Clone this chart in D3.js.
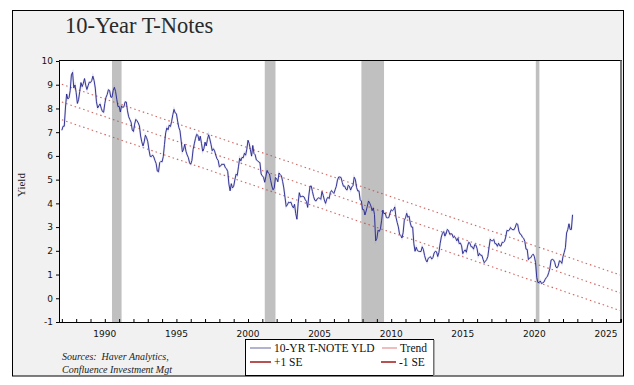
<!DOCTYPE html>
<html>
<head>
<meta charset="utf-8">
<script src="https://cdn.jsdelivr.net/npm/d3@7"></script>
<style>
  body { margin: 0; background: #fff; }
  svg { display: block; }
</style>
</head>
<body>
<svg id="chart" width="634" height="385"></svg>
<script>
// monthly 10-yr yield, Jan 1987 .. Sep 2022
const startYear = 1987
const yields = [
  7.08, 7.25, 7.25, 8.02, 8.61, 8.40, 8.45, 8.76, 9.42, 9.52, 8.86, 8.99,
  8.67, 8.21, 8.37, 8.72, 9.09, 8.92, 9.06, 9.26, 8.98, 8.80, 8.96, 9.11,
  9.09, 9.17, 9.36, 9.18, 8.86, 8.28, 8.02, 8.11, 8.19, 8.01, 7.87, 7.84,
  8.21, 8.47, 8.59, 8.79, 8.76, 8.48, 8.47, 8.75, 8.89, 8.72, 8.39, 8.08,
  8.09, 7.85, 8.11, 8.04, 8.07, 8.28, 8.27, 7.90, 7.65, 7.53, 7.42, 7.09,
  7.03, 7.34, 7.54, 7.48, 7.39, 7.26, 6.84, 6.59, 6.42, 6.59, 6.87, 6.77,
  6.60, 6.26, 5.98, 5.97, 6.04, 5.96, 5.81, 5.68, 5.36, 5.33, 5.72, 5.77,
  5.75, 5.97, 6.48, 6.97, 7.18, 7.10, 7.30, 7.24, 7.46, 7.74, 7.96, 7.81,
  7.78, 7.47, 7.20, 7.06, 6.63, 6.17, 6.28, 6.49, 6.20, 6.04, 5.93, 5.71,
  5.65, 5.81, 6.27, 6.51, 6.74, 6.91, 6.87, 6.64, 6.83, 6.53, 6.20, 6.30,
  6.58, 6.42, 6.69, 6.89, 6.71, 6.49, 6.22, 6.30, 6.21, 6.03, 5.88, 5.81,
  5.54, 5.57, 5.65, 5.64, 5.65, 5.50, 5.46, 5.34, 4.81, 4.53, 4.83, 4.65,
  4.72, 5.00, 5.23, 5.18, 5.54, 5.90, 5.79, 5.94, 5.92, 6.11, 6.03, 6.28,
  6.66, 6.52, 6.26, 5.99, 6.44, 6.10, 6.05, 5.83, 5.80, 5.74, 5.72, 5.24,
  5.16, 5.10, 4.89, 5.14, 5.39, 5.28, 5.24, 4.97, 4.73, 4.57, 4.65, 5.09,
  5.04, 4.91, 5.28, 5.21, 5.16, 4.93, 4.65, 4.26, 3.87, 3.94, 4.05, 4.03,
  4.05, 3.90, 3.81, 3.96, 3.57, 3.33, 3.98, 4.45, 4.27, 4.29, 4.30, 4.27,
  4.15, 4.08, 3.83, 4.35, 4.72, 4.73, 4.50, 4.28, 4.13, 4.10, 4.19, 4.23,
  4.22, 4.17, 4.50, 4.34, 4.14, 4.00, 4.18, 4.26, 4.20, 4.46, 4.54, 4.47,
  4.42, 4.57, 4.72, 4.99, 5.11, 5.11, 5.09, 4.88, 4.72, 4.73, 4.60, 4.56,
  4.76, 4.72, 4.56, 4.69, 4.75, 5.10, 5.00, 4.67, 4.52, 4.53, 4.15, 4.10,
  3.74, 3.74, 3.51, 3.68, 3.88, 4.10, 4.01, 3.89, 3.69, 3.81, 3.53, 2.42,
  2.52, 2.87, 2.82, 2.93, 3.29, 3.72, 3.56, 3.59, 3.40, 3.39, 3.40, 3.59,
  3.73, 3.69, 3.73, 3.85, 3.42, 3.20, 3.01, 2.70, 2.65, 2.54, 2.76, 3.29,
  3.39, 3.58, 3.41, 3.46, 3.17, 3.00, 3.00, 2.30, 1.98, 2.15, 2.01, 1.98,
  1.97, 1.97, 2.17, 2.05, 1.80, 1.62, 1.53, 1.68, 1.72, 1.75, 1.65, 1.72,
  1.91, 1.98, 1.96, 1.76, 1.93, 2.30, 2.58, 2.74, 2.81, 2.62, 2.72, 2.90,
  2.86, 2.71, 2.72, 2.71, 2.56, 2.60, 2.54, 2.42, 2.53, 2.30, 2.33, 2.21,
  1.88, 1.98, 2.04, 1.94, 2.20, 2.36, 2.32, 2.17, 2.17, 2.07, 2.26, 2.24,
  2.09, 1.78, 1.89, 1.81, 1.81, 1.64, 1.50, 1.56, 1.63, 1.76, 2.14, 2.49,
  2.43, 2.42, 2.48, 2.30, 2.30, 2.19, 2.32, 2.21, 2.20, 2.36, 2.35, 2.40,
  2.58, 2.86, 2.84, 2.87, 2.98, 2.91, 2.89, 2.89, 3.00, 3.15, 3.12, 2.83,
  2.71, 2.68, 2.57, 2.53, 2.40, 2.07, 2.06, 1.63, 1.70, 1.71, 1.81, 1.86,
  1.76, 1.50, 0.87, 0.66, 0.67, 0.73, 0.62, 0.65, 0.68, 0.79, 0.87, 0.93,
  1.08, 1.26, 1.61, 1.64, 1.62, 1.52, 1.32, 1.28, 1.37, 1.58, 1.56, 1.47,
  1.76, 1.93, 2.13, 2.75, 2.90, 3.14, 2.90, 2.90, 3.52
]

// trend line (start / end) and standard error
const trendYears = [1987, 2026.05]
const trendValues = [8.27, 0.22]
const trendSE = 0.75

// recessions, as fractional years
const recessions = [[1990.5, 1991.17], [2001.17, 2001.92], [2007.92, 2009.5], [2020.1, 2020.35]]

const yTicks = [-1, 0, 1, 2, 3, 4, 5, 6, 7, 8, 9, 10]
const xLabels = [1990, 1995, 2000, 2005, 2010, 2015, 2020, 2025]

const svg = d3.select('#chart')

// frame
svg.append('rect')
  .attr('x', 12.5).attr('y', 10.5)
  .attr('width', 611).attr('height', 365.5)
  .attr('fill', '#f1f1f1')
  .attr('stroke', '#000').attr('stroke-width', 1)

const plot = {left: 59, right: 621, top: 60.5, bottom: 322}

const x = d3.scaleLinear().domain([1986.8, 2026.05]).range([plot.left, plot.right])
const y = d3.scaleLinear().domain([-1, 10]).range([plot.bottom, plot.top + 0.5])

svg.append('rect')
  .attr('x', plot.left).attr('y', plot.top)
  .attr('width', plot.right - plot.left).attr('height', plot.bottom - plot.top)
  .attr('fill', '#fff')

// recession bars
svg.selectAll('rect.rec')
  .data(recessions)
  .join('rect')
  .attr('class', 'rec')
  .attr('x', d => x(d[0]))
  .attr('width', d => x(d[1]) - x(d[0]))
  .attr('y', plot.top)
  .attr('height', plot.bottom - plot.top)
  .attr('fill', '#c0c0c0')

// trend and +/- 1 SE lines
const trendLine = d3.line().x(d => x(d[0])).y(d => y(d[1]))
;[trendSE, 0, -trendSE].forEach(function(off){
  svg.append('path')
    .datum(trendYears.map((yr, i) => [yr, trendValues[i] + off]))
    .attr('d', trendLine)
    .attr('fill', 'none')
    .attr('stroke', '#c4403a')
    .attr('stroke-width', 1.1)
    .attr('stroke-dasharray', '1.5,3')
    .attr('opacity', 0.8)
})

// yield line
const yieldLine = d3.line()
  .x((d, i) => x(startYear + i / 12))
  .y(d => y(d))

svg.append('path')
  .datum(yields)
  .attr('d', yieldLine)
  .attr('fill', 'none')
  .attr('stroke', '#9a9ad8')
  .attr('stroke-width', 2)
  .attr('opacity', 0.3)

svg.append('path')
  .datum(yields)
  .attr('d', yieldLine)
  .attr('fill', 'none')
  .attr('stroke', '#24248c')
  .attr('stroke-width', 0.9)

// plot borders
svg.append('line')
  .attr('x1', plot.left).attr('x2', plot.right + 1)
  .attr('y1', plot.top).attr('y2', plot.top)
  .attr('stroke', '#000')
svg.append('line')
  .attr('x1', plot.right).attr('x2', plot.right)
  .attr('y1', plot.top).attr('y2', plot.bottom)
  .attr('stroke', '#7a7a7a').attr('stroke-width', 2)

// y axis
const yAxis = svg.append('g')
  .attr('transform', `translate(${plot.left},0)`)
  .call(d3.axisLeft(y).tickValues(yTicks).tickSize(3).tickPadding(3).tickFormat(d => String(d)))
yAxis.select('.domain').attr('stroke', '#000')
yAxis.selectAll('text')
  .attr('font-family', 'DejaVu Sans, sans-serif')
  .attr('font-size', 9)
  .attr('fill', '#111')

// x axis: yearly ticks pointing in, labels every 5 years
const xAxis = svg.append('g')
  .attr('transform', `translate(0,${plot.bottom})`)
  .call(d3.axisBottom(x).tickValues(d3.range(1987, 2027)).tickSize(-3).tickFormat(''))
xAxis.select('.domain').attr('stroke', '#000')

svg.selectAll('text.xlab')
  .data(xLabels)
  .join('text')
  .attr('class', 'xlab')
  .attr('x', d => x(d))
  .attr('y', 337)
  .attr('text-anchor', 'middle')
  .attr('font-family', 'DejaVu Sans, sans-serif')
  .attr('font-size', 9)
  .attr('fill', '#111')
  .text(d => d)

// title and y label
svg.append('text')
  .attr('x', 65).attr('y', 33)
  .attr('font-family', 'Liberation Serif, serif')
  .attr('font-size', 22.5)
  .attr('fill', '#2a2a2a')
  .text('10-Year T-Notes')

svg.append('text')
  .attr('transform', 'translate(25,185) rotate(-90)')
  .attr('text-anchor', 'middle')
  .attr('font-family', 'Liberation Serif, serif')
  .attr('font-size', 11)
  .attr('fill', '#222')
  .text('Yield')

// sources
const src = svg.append('g')
  .attr('font-family', 'Liberation Serif, serif')
  .attr('font-style', 'italic')
  .attr('font-size', 10)
  .attr('fill', '#222')
src.append('text').attr('x', 62).attr('y', 360).attr('xml:space', 'preserve').text('Sources:  Haver Analytics,')
src.append('text').attr('x', 62).attr('y', 373).text('Confluence Investment Mgt')

// legend
const legend = svg.append('g')
legend.append('rect')
  .attr('x', 245.5).attr('y', 339.5)
  .attr('width', 188).attr('height', 36)
  .attr('fill', '#fff')
  .attr('stroke', '#000')
legend.append('line')
  .attr('x1', 434).attr('x2', 434).attr('y1', 340).attr('y2', 376)
  .attr('stroke', '#999').attr('stroke-width', 1.5)

const legendItems = [
  {label: '10-YR T-NOTE YLD', color: '#9a9ac0', x: 250, y: 352, len: 21},
  {label: 'Trend', color: '#e8a8a8', x: 382, y: 352, len: 15},
  {label: '+1 SE', color: '#a01818', x: 250, y: 366, len: 21},
  {label: '-1 SE', color: '#a01818', x: 381, y: 366, len: 15}
]
legendItems.forEach(function(d){
  legend.append('line')
    .attr('x1', d.x).attr('x2', d.x + d.len)
    .attr('y1', d.y - 4).attr('y2', d.y - 4)
    .attr('stroke', d.color).attr('stroke-width', 1.5)
  legend.append('text')
    .attr('x', d.x + d.len + 3).attr('y', d.y)
    .attr('font-family', 'Liberation Serif, serif')
    .attr('font-size', 11.5)
    .attr('fill', '#111')
    .text(d.label)
})
</script>
</body>
</html>
